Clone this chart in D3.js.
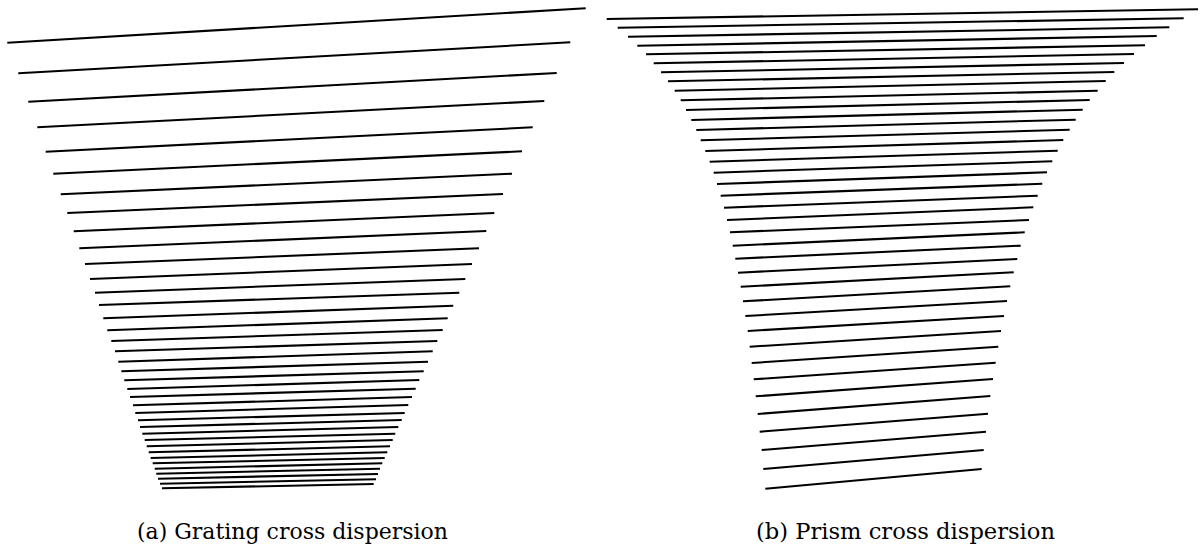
<!DOCTYPE html>
<html>
<head>
<meta charset="utf-8">
<script src="https://cdn.jsdelivr.net/npm/d3@7"></script>
<style>
  html, body { margin: 0; padding: 0; background: #fff; }
  svg { display: block; }
  .caption { font-family: "DejaVu Serif", serif; fill: #000; }
</style>
</head>
<body>
<svg id="chart" width="1199" height="548"></svg>
<script>
// Echelle order traces on the detector, in mm (x right, y down from the top edge).
// Each order runs from its blue end (left) to its red end (right).

// (a) grating cross-disperser
const gratingLeftX = [0.73, 1.83, 2.83, 3.73, 4.57, 5.33, 6.07, 6.73, 7.37, 7.93,
  8.50, 9.00, 9.50, 9.90, 10.33, 10.73, 11.13, 11.50, 11.83, 12.13,
  12.43, 12.73, 13.00, 13.30, 13.53, 13.80, 14.00, 14.23, 14.47, 14.67,
  14.87, 15.07, 15.27, 15.47, 15.63, 15.80, 16.00, 16.20];
const gratingLeftY = [4.27, 7.33, 10.17, 12.73, 15.17, 17.37, 19.43, 21.30, 23.13, 24.83,
  26.40, 27.90, 29.27, 30.50, 31.83, 33.03, 34.10, 35.13, 36.17, 37.13,
  38.03, 38.90, 39.70, 40.53, 41.30, 42.03, 42.70, 43.37, 44.00, 44.63,
  45.23, 45.80, 46.33, 46.87, 47.37, 47.87, 48.37, 48.83];
const gratingRightX = [58.57, 57.03, 55.67, 54.43, 53.27, 52.20, 51.20, 50.30, 49.43, 48.63,
  47.90, 47.20, 46.53, 45.93, 45.33, 44.77, 44.27, 43.73, 43.27, 42.80,
  42.37, 41.93, 41.57, 41.20, 40.83, 40.47, 40.17, 39.83, 39.53, 39.27,
  39.00, 38.73, 38.47, 38.23, 38.00, 37.80, 37.60, 37.37];
const gratingRightY = [0.83, 4.23, 7.30, 10.10, 12.73, 15.13, 17.37, 19.40, 21.30, 23.10,
  24.83, 26.40, 27.90, 29.27, 30.57, 31.83, 33.00, 34.10, 35.13, 36.17,
  37.13, 38.00, 38.87, 39.70, 40.50, 41.30, 42.00, 42.70, 43.37, 44.00,
  44.63, 45.23, 45.80, 46.33, 46.87, 47.40, 47.93, 48.40];

// (b) prism cross-disperser
const prismLeftX = [0.67, 1.77, 2.80, 3.73, 4.60, 5.37, 6.10, 6.80, 7.47, 8.07,
  8.60, 9.13, 9.63, 10.07, 10.53, 10.97, 11.37, 11.70, 12.07, 12.40,
  12.70, 13.00, 13.27, 13.53, 13.80, 14.07, 14.30, 14.53, 14.77, 14.97,
  15.17, 15.37, 15.57, 15.77, 15.97, 16.17, 16.33, 16.53];
const prismLeftY = [1.90, 2.77, 3.67, 4.57, 5.43, 6.33, 7.23, 8.13, 9.07, 10.03,
  11.00, 12.00, 13.00, 14.03, 15.10, 16.17, 17.27, 18.40, 19.57, 20.77,
  22.00, 23.23, 24.57, 25.87, 27.27, 28.67, 30.13, 31.60, 33.10, 34.67,
  36.30, 37.93, 39.63, 41.40, 43.17, 45.00, 46.90, 48.87];
const prismRightX = [59.80, 58.37, 56.93, 55.67, 54.50, 53.40, 52.40, 51.43, 50.57, 49.77,
  48.97, 48.27, 47.57, 46.97, 46.33, 45.77, 45.23, 44.70, 44.23, 43.77,
  43.33, 42.90, 42.47, 42.07, 41.73, 41.37, 41.03, 40.70, 40.40, 40.10,
  39.83, 39.57, 39.30, 39.03, 38.80, 38.60, 38.37, 38.17];
const prismRightY = [0.93, 1.83, 2.73, 3.60, 4.53, 5.40, 6.30, 7.20, 8.10, 9.07,
  10.00, 10.97, 11.97, 12.97, 14.00, 15.07, 16.13, 17.23, 18.37, 19.57,
  20.73, 22.00, 23.23, 24.57, 25.90, 27.23, 28.63, 30.10, 31.60, 33.10,
  34.67, 36.27, 37.90, 39.60, 41.37, 43.17, 45.00, 46.90];

const captions = ["(a) Grating cross dispersion", "(b) Prism cross dispersion"];

const panels = [
  { lx: gratingLeftX, ly: gratingLeftY, rx: gratingRightX, ry: gratingRightY, caption: captions[0] },
  { lx: prismLeftX,   ly: prismLeftY,   rx: prismRightX,   ry: prismRightY,   caption: captions[1] }
];

const svg = d3.select("#chart");
const panelWidth = 600;
const detectorSize = [60, 50]; // mm

const x = d3.scaleLinear().domain([0, detectorSize[0]]).range([0, panelWidth]);
const y = d3.scaleLinear().domain([0, detectorSize[1]]).range([0, 500]);

// caption placement: left edge and set width of each caption line
const captionLeft = [137, 756];
const captionWidth = [311, 299];

panels.forEach((p, i) => {
  const g = svg.append("g").attr("transform", `translate(${i * panelWidth},0)`);
  const orders = d3.range(p.lx.length).map(k => ({
    x1: p.lx[k], y1: p.ly[k], x2: p.rx[k], y2: p.ry[k]
  }));
  g.selectAll("line.order")
    .data(orders)
    .join("line")
    .attr("class", "order")
    .attr("x1", d => x(d.x1))
    .attr("y1", d => y(d.y1))
    .attr("x2", d => x(d.x2))
    .attr("y2", d => y(d.y2))
    .attr("stroke", "#000")
    .attr("stroke-width", 2.1)
    .attr("stroke-linecap", "butt");

  svg.append("text")
    .attr("class", "caption")
    .attr("x", captionLeft[i])
    .attr("y", 539)
    .attr("font-size", 21.5)
    .attr("textLength", captionWidth[i])
    .attr("lengthAdjust", "spacingAndGlyphs")
    .text(p.caption);
});
</script>
</body>
</html>
